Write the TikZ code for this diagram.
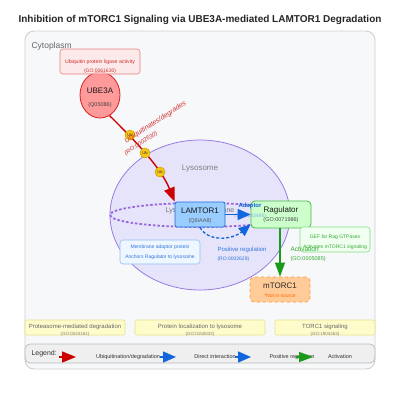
\documentclass[tikz,border=0pt]{standalone}
\usepackage{fontspec}
\setmainfont{Liberation Sans}
\usetikzlibrary{arrows.meta,shapes.geometric}
\definecolor{cytofill}{HTML}{F7F8FA}
\definecolor{cytoline}{HTML}{D0D0D4}
\definecolor{ubefill}{HTML}{FF9A9A}
\definecolor{ubeline}{HTML}{D62020}
\definecolor{ligfill}{HTML}{FFE4E4}
\definecolor{ligline}{HTML}{E88080}
\definecolor{ligtext}{HTML}{D03030}
\definecolor{redarr}{HTML}{CC0000}
\definecolor{ubfill}{HTML}{F5C518}
\definecolor{ubline}{HTML}{D49A00}
\definecolor{lysofill}{HTML}{E6E4FA}
\definecolor{lysoline}{HTML}{9A7BE0}
\definecolor{membr}{HTML}{9966DD}
\definecolor{lamfill}{HTML}{99CCFF}
\definecolor{lamline}{HTML}{1E6FD8}
\definecolor{ragfill}{HTML}{CCFFCC}
\definecolor{ragline}{HTML}{44BB44}
\definecolor{bluearr}{HTML}{1166DD}
\definecolor{bluetext}{HTML}{3377DD}
\definecolor{greenarr}{HTML}{1A9A1A}
\definecolor{greentext}{HTML}{33AA33}
\definecolor{mtfill}{HTML}{FFCC99}
\definecolor{mtline}{HTML}{FF9933}
\definecolor{mttext}{HTML}{FF6600}
\definecolor{adfill}{HTML}{EEF6FF}
\definecolor{adline}{HTML}{90C0F0}
\definecolor{geffill}{HTML}{F0FFF0}
\definecolor{gefline}{HTML}{88DD88}
\definecolor{barfill}{HTML}{FFFCCC}
\definecolor{barline}{HTML}{E8E08A}
\definecolor{legfill}{HTML}{EFEFEF}
\definecolor{legline}{HTML}{BBBBBB}
\tikzset{
  fs/.style={font=\fontsize{#1}{#1}\selectfont},
  boxnode/.style={draw, rectangle, inner sep=0pt},
  ubcirc/.style={circle, draw=ubline, fill=ubfill, line width=0.5pt, minimum size=10pt, inner sep=0pt, font=\fontsize{4}{4}\selectfont, text=black!80},
  redarrow/.style={draw=redarr, line width=1.4pt, -{Triangle[length=14pt,width=11pt]}},
  bluearrow/.style={draw=bluearr, line width=1.4pt, -{Triangle[length=13pt,width=11pt]}},
  greenarrow/.style={draw=greenarr, line width=1.4pt, -{Triangle[length=14pt,width=10pt]}},
  bardef/.style={boxnode, draw=barline, fill=barfill, rounded corners=2pt, line width=0.6pt, minimum height=15pt},
}
\begin{document}
\begin{tikzpicture}[x=1pt,y=-1pt]
\useasboundingbox (0,0) rectangle (400,400);
\fill[white] (0,0) rectangle (400,400);
% title
\node[font=\bfseries\fontsize{10}{10}\selectfont, text=black!85] (title) at (200,20) {Inhibition of mTORC1 Signaling via UBE3A-mediated LAMTOR1 Degradation};
% cytoplasm
\node[boxnode, draw=cytoline, fill=cytofill, line width=0.9pt, rounded corners=9pt, minimum width=350pt, minimum height=338pt] (cyto) at (200,200) {};
\node[fs=8.5, text=black!60, anchor=west] (cytolab) at (28,46) {Cytoplasm};
% lysosome
\node[ellipse, draw=lysoline, fill=lysofill, line width=0.8pt, minimum width=180pt, minimum height=150pt, inner sep=0pt] (lyso) at (200,215) {};
\node[fs=8, text=black!50] (lysolab) at (200,169) {Lysosome};
\draw[membr, line width=1.8pt, dash pattern=on 2.5pt off 2pt] (200,215) ellipse [x radius=90pt, y radius=12pt];
\node[fs=7, text=black!55] (memlab) at (200,210.5) {Lysosomal membrane};
% UBE3A
\node[ellipse, draw=ubeline, fill=ubefill, line width=0.8pt, minimum width=40pt, minimum height=46pt, inner sep=0pt] (ube) at (100,95) {};
\node[fs=8, text=black!90] (ubet) at (100,91) {UBE3A};
\node[fs=5.5, text=black!75] (ubes) at (100,105) {(Q05086)};
\node[boxnode, draw=ligline, fill=ligfill, fill opacity=0.75, line width=0.6pt, rounded corners=3pt, minimum width=80pt, minimum height=25pt] (lig) at (100,61.5) {};
\node[fs=5.2, text=ligtext] (ligt) at (100,62) {Ubiquitin protein ligase activity};
\node[fs=5, text=ligtext] (ligs) at (100,71) {(GO:0061630)};
% LAMTOR1
\node[boxnode, draw=lamline, fill=lamfill, line width=0.8pt, rounded corners=2pt, minimum width=50pt, minimum height=25pt] (lam) at (200,214.5) {};
\node[fs=8, text=black!90] (lamt) at (200,211) {LAMTOR1};
\node[fs=5.5, text=black!65] (lams) at (200,221) {(Q6IAA8)};
% Ragulator
\node[boxnode, draw=ragline, fill=ragfill, line width=0.8pt, rounded corners=4pt, minimum width=60pt, minimum height=27pt] (rag) at (281,214.5) {};
\node[fs=5, text=bluetext!60] (adgo) at (250,216) {(GO:0043495)};
\node[fs=8, text=black!90] (ragt) at (281,210.5) {Ragulator};
\node[fs=5.5, text=black!70] (rags) at (281,220) {(GO:0071986)};
% red ubiquitination arrow
\draw[redarrow] (ube.-65) .. controls (128,134) and (160,165) .. (lam.north west);
\node[ubcirc] (ub1) at (130,135) {Ub};
\node[ubcirc] (ub2) at (145,153) {Ub};
\node[ubcirc] (ub3) at (160,172) {Ub};
\node[font=\itshape\fontsize{7}{7}\selectfont, text=ligtext, rotate=33] (ubl1) at (155.5,122.5) {Ubiquitinates/degrades};
\node[font=\itshape\fontsize{6}{6}\selectfont, text=ligtext, rotate=33] (ubl2) at (141,143.5) {(RO:0002630)};
% adaptor arrow
\draw[bluearrow] (lam.east) -- (rag.west);
\node[font=\bfseries\fontsize{6}{6}\selectfont, text=bluearr] (adl) at (250,205.5) {Adaptor};
% positive regulation dashed
\draw[draw=bluearr, line width=1.3pt, dash pattern=on 3pt off 2pt, -{Triangle[length=12pt,width=10pt]}] (lam.south) .. controls (208,242) and (232,240) .. ([yshift=4pt]rag.south west);
\node[fs=6, text=bluetext, anchor=west] (prl) at (214,250) {Positive regulation};
\node[fs=5, text=bluetext, anchor=west] (prs) at (214,259.5) {(RO:0002629)};
% membrane adaptor box
\node[boxnode, draw=adline, fill=adfill, line width=0.6pt, rounded corners=3pt, minimum width=80pt, minimum height=24pt] (adbox) at (160,252) {};
\node[fs=5, text=bluetext] (adb1) at (160,247.5) {Membrane adaptor protein};
\node[fs=5, text=bluetext] (adb2) at (160,257) {Anchors Ragulator to lysosome};
% GEF box
\node[boxnode, draw=gefline, fill=geffill, line width=0.6pt, rounded corners=3pt, minimum width=70pt, minimum height=25pt] (gef) at (335,239.5) {};
\node[fs=5, text=greentext] (gef1) at (335,237) {GEF for Rag GTPases};
\node[fs=5, text=greentext] (gef2) at (335,247) {Activates mTORC1 signaling};
% mTORC1
\node[boxnode, draw=mtline, fill=mtfill, line width=0.8pt, dashed, rounded corners=4pt, minimum width=60pt, minimum height=25pt] (mt) at (280,289.5) {};
\node[fs=8, text=black!85] (mtt) at (280,286) {mTORC1};
\node[fs=5, text=mttext] (mts) at (280,296) {*Not in source};
% activation arrow
\draw[greenarrow] (rag.south -| mt.north) -- (mt.north);
\node[fs=6.5, text=greentext, anchor=west] (acl) at (287,249) {Activation};
\node[fs=5.5, text=greentext, anchor=west] (acs) at (287,259) {(GO:0005085)};
% process bars
\node[bardef, minimum width=100pt] (bar1) at (75,327.5) {};
\node[fs=6, text=black!60] (bar1t) at (75,327) {Proteasome-mediated degradation};
\node[fs=4.5, text=black!50] (bar1s) at (75,334.5) {(GO:0043161)};
\node[bardef, minimum width=130pt] (bar2) at (200,327.5) {};
\node[fs=6, text=black!60] (bar2t) at (200,327) {Protein localization to lysosome};
\node[fs=4.5, text=black!50] (bar2s) at (200,334.5) {(GO:0150032)};
\node[bardef, minimum width=100pt] (bar3) at (325,327.5) {};
\node[fs=6, text=black!60] (bar3t) at (325,327) {TORC1 signaling};
\node[fs=4.5, text=black!50] (bar3s) at (325,334.5) {(GO:1904263)};
% legend
\node[boxnode, draw=legline, fill=legfill, line width=0.7pt, rounded corners=5pt, minimum width=350pt, minimum height=19pt] (leg) at (200,353.5) {};
\node[fs=7, text=black!80, anchor=west] (legt) at (28,354) {Legend:};
\coordinate (l1s) at (59,357); \coordinate (l1e) at (76,357);
\coordinate (l2s) at (160,357); \coordinate (l2e) at (176,357);
\coordinate (l3s) at (235,357); \coordinate (l3e) at (251,357);
\coordinate (l4s) at (296,357); \coordinate (l4e) at (313,357);
\draw[redarrow] (l1s) -- (l1e);
\node[fs=5.5, text=black!80] (lg1) at (128,357) {Ubiquitination/degradation};
\draw[bluearrow] (l2s) -- (l2e);
\node[fs=5.5, text=black!80] (lg2) at (215,357) {Direct interaction};
\draw[bluearrow] (l3s) -- (l3e);
\node[fs=5.5, text=black!80] (lg3) at (292,357) {Positive regulation};
\draw[greenarrow] (l4s) -- (l4e);
\node[fs=5.5, text=black!80] (lg4) at (340,357) {Activation};
\end{tikzpicture}
\end{document}
